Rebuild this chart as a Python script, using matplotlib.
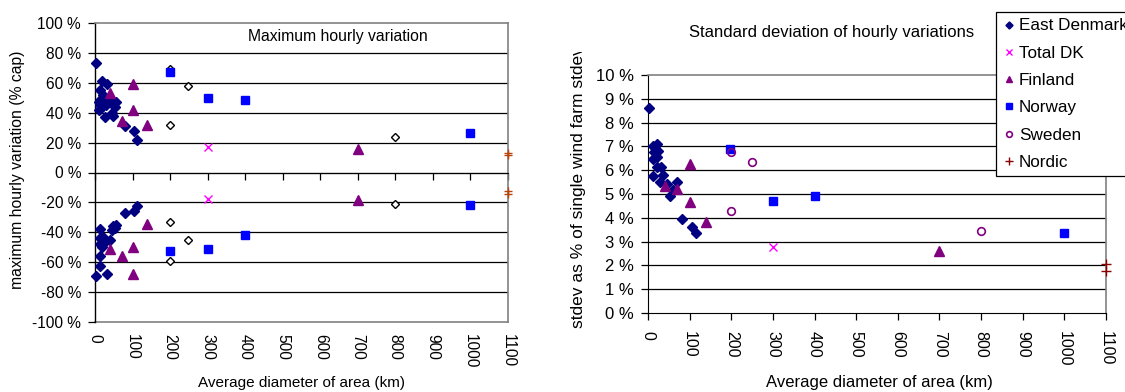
import matplotlib
matplotlib.use("Agg", force=True)
import matplotlib.pyplot as plt
from matplotlib.transforms import Bbox, TransformedBbox

plt.rcParams["font.family"] = ["Liberation Sans", "DejaVu Sans"]
plt.rcParams["font.size"] = 11

W, H = 1125, 392

# --- maximum hourly variation (% of capacity), upper and lower branch ---
ed_up_x = [3, 19, 33, 13, 22, 10, 12, 11, 15, 18, 25, 28, 27, 30, 35, 39, 45, 49, 53, 57, 81, 104, 112]
ed_up_y = [73, 61, 59, 55, 52, 47, 45, 42, 49, 44, 46, 49, 37, 45, 48, 48, 40, 38, 44, 47, 31, 28, 22]
ed_lo_x = [3, 13, 13, 13, 13, 13, 20, 22, 18, 33, 39, 44, 48, 52, 57, 81, 104, 112]
ed_lo_y = [-69.5, -38, -44, -48, -56, -62.5, -43, -48, -50, -68, -45, -38.5, -36, -37, -35, -27, -25.5, -22.5]
fi_max_x = [40, 100, 100, 72, 139, 700, 40, 72, 100, 100, 139, 700]
fi_max_y = [53, 59, 42, 34.5, 32, 16, -51, -56, -49.5, -68, -34.5, -18.5]
se_max_x = [200, 249, 200, 800, 200, 249, 200, 800]
se_max_y = [69, 58, 32, 24, -33, -45, -59, -21]
no_max_x = [200, 300, 400, 1000, 200, 300, 400, 1000]
no_max_y = [67.5, 49.5, 48.5, 26.5, -52.5, -51, -42, -21.5]
dk_max_x = [300, 300]
dk_max_y = [17, -18]
nd_max_x = [1100, 1100, 1100, 1100]
nd_max_y = [13, 11.5, -12.5, -14.5]

# --- standard deviation of hourly variations (% of single farm stdev) ---
ed_sd_x = [3, 21, 16, 13, 23, 14, 11, 21, 22, 32, 37, 13, 29, 45, 53, 61, 70, 82, 105, 115]
ed_sd_y = [8.62, 7.12, 6.95, 7.0, 6.8, 6.75, 6.47, 6.55, 6.15, 6.12, 5.8, 5.75, 5.52, 5.4, 4.9, 5.18, 5.52, 3.95, 3.63, 3.38]
fi_sd_x = [42, 70, 102, 102, 139, 700]
fi_sd_y = [5.33, 5.2, 6.25, 4.68, 3.82, 2.6]
no_sd_x = [198, 300, 400, 1000]
no_sd_y = [6.88, 4.7, 4.92, 3.35]
se_sd_x = [200, 249, 200, 800]
se_sd_y = [6.78, 6.35, 4.3, 3.45]
dk_sd_x = [300]
dk_sd_y = [2.77]
nd_sd_x = [1100, 1100]
nd_sd_y = [2.05, 1.75]

x_ticks = list(range(0, 1101, 100))
max_ticks = list(range(-100, 101, 20))
sd_ticks = list(range(0, 11))

NAVY = "#000080"
MAGENTA = "#FF00FF"
PURPLE = "#800080"
BLUE = "#0000FF"
BROWN_L = "#B8460B"
BROWN_R = "#8B0000"
GREY = "#808080"

legend_names = ["East Denmark", "Total DK", "Finland", "Norway", "Sweden", "Nordic"]


def pct(v):
    return f"{v} %"


fig = plt.figure(figsize=(W / 100, H / 100), dpi=100)

# ---------------- left panel ----------------
axl = fig.add_axes([95 / W, 1 - 322 / H, 413 / W, 299 / H])
axl.set_xlim(0, 1100)
axl.set_ylim(-100, 100)

kw = dict(linestyle="none", clip_on=False, zorder=3)
axl.plot(ed_up_x, ed_up_y, marker="D", ms=4.8, color=NAVY, **kw)
axl.plot(ed_lo_x, ed_lo_y, marker="D", ms=4.8, color=NAVY, **kw)
axl.plot(fi_max_x, fi_max_y, marker="^", ms=6.5, color=PURPLE, **kw)
axl.plot(se_max_x, se_max_y, marker="D", ms=3.6, mfc="white", mec="black", mew=1.0, **kw)
axl.plot(no_max_x, no_max_y, marker="s", ms=6, color=BLUE, **kw)
axl.plot(dk_max_x, dk_max_y, marker="x", ms=6, mew=1.0, color=MAGENTA, **kw)
axl.plot(nd_max_x, nd_max_y, marker="+", ms=6, mew=1.0, color=BROWN_L, **kw)

axl.set_yticks(max_ticks)
axl.set_yticklabels([pct(v) for v in max_ticks])
axl.yaxis.grid(True, color="black", lw=0.9)
gl = axl.yaxis.get_gridlines()
gl[0].set_visible(False)
gl[-1].set_visible(False)
axl.set_axisbelow(True)
axl.tick_params(axis="y", direction="out", length=5, width=0.9, pad=5, labelsize=11.2)

# x axis line crosses at 0 %, labels sit at the bottom edge
axl.spines["bottom"].set_position(("data", 0))
axl.spines["bottom"].set_color("black")
axl.set_xticks(x_ticks)
axl.tick_params(axis="x", direction="out", length=5, width=0.9, labelbottom=False)
for s in ("top", "right"):
    axl.spines[s].set_color(GREY)
    axl.spines[s].set_linewidth(1.2)
axl.spines["left"].set_linewidth(1.0)

sec = axl.secondary_xaxis("bottom")
sec.set_xticks(x_ticks)
sec.set_xticklabels([str(v) for v in x_ticks], rotation=-90)
sec.tick_params(axis="x", length=0, pad=9, labelsize=11.2)
sec.spines["bottom"].set_color(GREY)
sec.spines["bottom"].set_linewidth(1.2)

axl.text((338 - 95) / 413, (322 - 37) / 299, "Maximum hourly variation",
         transform=axl.transAxes, ha="center", va="center", fontsize=11.3)

fig.text(18 / W, 1 - 170 / H, "maximum hourly variation (% cap)",
         rotation=90, ha="center", va="center", fontsize=11.3)
fig.text(302 / W, 1 - 383 / H, "Average diameter of area (km)", ha="center", va="center")

# ---------------- right panel ----------------
axr = fig.add_axes([648 / W, 1 - 313 / H, 458 / W, 238 / H])
axr.set_xlim(0, 1100)
axr.set_ylim(0, 10)

h_ed, = axr.plot(ed_sd_x, ed_sd_y, marker="D", ms=4.8, color=NAVY, **kw)
h_dk, = axr.plot(dk_sd_x, dk_sd_y, marker="x", ms=6, mew=1.0, color=MAGENTA, **kw)
h_fi, = axr.plot(fi_sd_x, fi_sd_y, marker="^", ms=6.5, color=PURPLE, **kw)
h_no, = axr.plot(no_sd_x, no_sd_y, marker="s", ms=6, color=BLUE, **kw)
h_se, = axr.plot(se_sd_x, se_sd_y, marker="o", ms=5.5, mfc="none", mec=PURPLE, mew=1.2, **kw)
h_nd, = axr.plot(nd_sd_x, nd_sd_y, marker="+", ms=7, mew=1.0, color=BROWN_R, **kw)

axr.set_yticks(sd_ticks)
axr.set_yticklabels([pct(v) for v in sd_ticks])
axr.yaxis.grid(True, color="black", lw=0.9)
gr = axr.yaxis.get_gridlines()
gr[0].set_visible(False)
gr[-1].set_visible(False)
axr.set_axisbelow(True)
axr.tick_params(axis="y", direction="out", length=5, width=0.9, pad=5, labelsize=12)
axr.set_xticks(x_ticks)
axr.set_xticklabels([str(v) for v in x_ticks], rotation=-90)
axr.tick_params(axis="x", direction="out", length=5, width=0.9, pad=8, labelsize=11.5)
for s in ("top", "right"):
    axr.spines[s].set_color(GREY)
    axr.spines[s].set_linewidth(1.2)

fig.text(832 / W, 1 - 33 / H, "Standard deviation of hourly variations",
         ha="center", va="center", fontsize=12)
fig.text(879 / W, 1 - 383 / H, "Average diameter of area (km)",
         ha="center", va="center", fontsize=12)

ylab = fig.text(578 / W, 1 - 328 / H, "stdev as % of single wind farm stdev",
                rotation=90, rotation_mode="anchor", ha="left", va="center", fontsize=12.5)
ylab.set_clip_box(TransformedBbox(Bbox([[0.45, 0.0], [0.56, 1 - 52 / H]]), fig.transFigure))
ylab.set_clip_on(True)

leg = fig.legend([h_ed, h_dk, h_fi, h_no, h_se, h_nd], legend_names,
                 loc="upper left", bbox_to_anchor=(996 / W, 1 - 12 / H),
                 borderaxespad=0, borderpad=0.38, handlelength=0.75, handletextpad=0.2,
                 labelspacing=0.72, markerscale=0.75, fancybox=False, framealpha=1,
                 edgecolor="black", fontsize=12.3)
leg.get_frame().set_linewidth(0.9)

fig.savefig("out.png", dpi=100)
